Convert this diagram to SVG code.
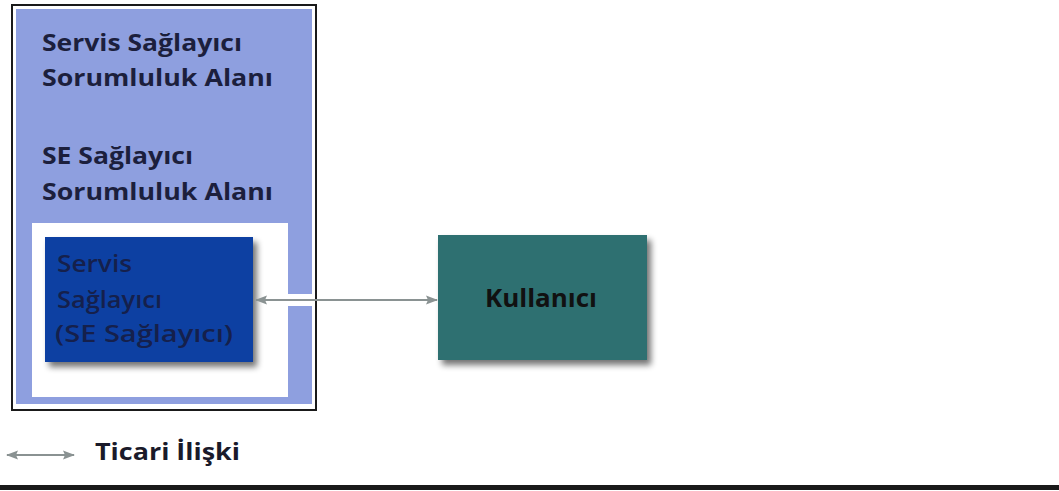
<svg xmlns="http://www.w3.org/2000/svg" width="1059" height="491" viewBox="0 0 1059 491">
<style>
.t{font-family:"Open Sans","Lato","Liberation Sans",sans-serif;font-weight:bold;fill:#1c1f3d}
.big{font-size:24px}
.inner{font-size:23px;fill:#15204c;font-weight:600}
.conn{stroke:#8a9292;stroke-width:2;fill:none}
</style>
<defs>
<marker id="ah" viewBox="0 0 12 10" refX="11" refY="5" markerWidth="12" markerHeight="10" orient="auto-start-reverse" markerUnits="userSpaceOnUse">
<path d="M0,0.5 L12,5 L0,9.5 L2,5 Z" fill="#8a9292"/>
</marker>
<filter id="sh" x="-10%" y="-10%" width="130%" height="140%">
<feGaussianBlur in="SourceAlpha" stdDeviation="3"/>
<feOffset dx="4" dy="5" result="b"/>
<feComponentTransfer><feFuncA type="linear" slope="0.55"/></feComponentTransfer>
<feMerge><feMergeNode/><feMergeNode in="SourceGraphic"/></feMerge>
</filter>
</defs>
<rect width="1059" height="491" fill="#ffffff"/>
<g id="outer">
<rect x="12" y="5" width="304" height="405" fill="#ffffff" stroke="#1a1a1a" stroke-width="2"/>
<rect x="16" y="9" width="296" height="395" fill="#8e9fdf"/>
<rect x="32" y="223" width="256" height="174" fill="#ffffff"/>
<text class="t big" x="42" y="51" textLength="200" lengthAdjust="spacingAndGlyphs">Servis Sağlayıcı</text>
<text class="t big" x="42" y="86" textLength="231" lengthAdjust="spacingAndGlyphs">Sorumluluk Alanı</text>
<text class="t big" x="42" y="164" textLength="151" lengthAdjust="spacingAndGlyphs">SE Sağlayıcı</text>
<text class="t big" x="42" y="200" textLength="231" lengthAdjust="spacingAndGlyphs">Sorumluluk Alanı</text>
</g>
<g id="se-provider">
<rect x="45" y="237" width="208" height="125" fill="#0b40a2" filter="url(#sh)"/>
<text class="t inner" x="57" y="272" textLength="75" lengthAdjust="spacingAndGlyphs">Servis</text>
<text class="t inner" x="57" y="308" textLength="105" lengthAdjust="spacingAndGlyphs">Sağlayıcı</text>
<text class="t inner" x="55" y="342" textLength="178" lengthAdjust="spacingAndGlyphs">(SE Sağlayıcı)</text>
</g>
<g id="user">
<rect x="438" y="235" width="209" height="125" fill="#2d6f71" filter="url(#sh)"/>
<text class="t" x="485" y="307" font-size="25" textLength="112" lengthAdjust="spacingAndGlyphs" style="fill:#111">Kullanıcı</text>
</g>
<g id="connectors">
<rect x="286" y="294" width="28" height="12" fill="#ffffff"/>
<line class="conn" x1="256" y1="300" x2="437" y2="300" marker-start="url(#ah)" marker-end="url(#ah)"/>
</g>
<g id="legend">
<line class="conn" x1="7" y1="455" x2="74" y2="455" marker-start="url(#ah)" marker-end="url(#ah)"/>
<text class="t" x="95" y="460" font-size="23" textLength="145" lengthAdjust="spacingAndGlyphs" style="fill:#1a1a2a">Ticari İlişki</text>
</g>
<rect x="0" y="485" width="1059" height="5" fill="#1a1a1a"/>
</svg>
